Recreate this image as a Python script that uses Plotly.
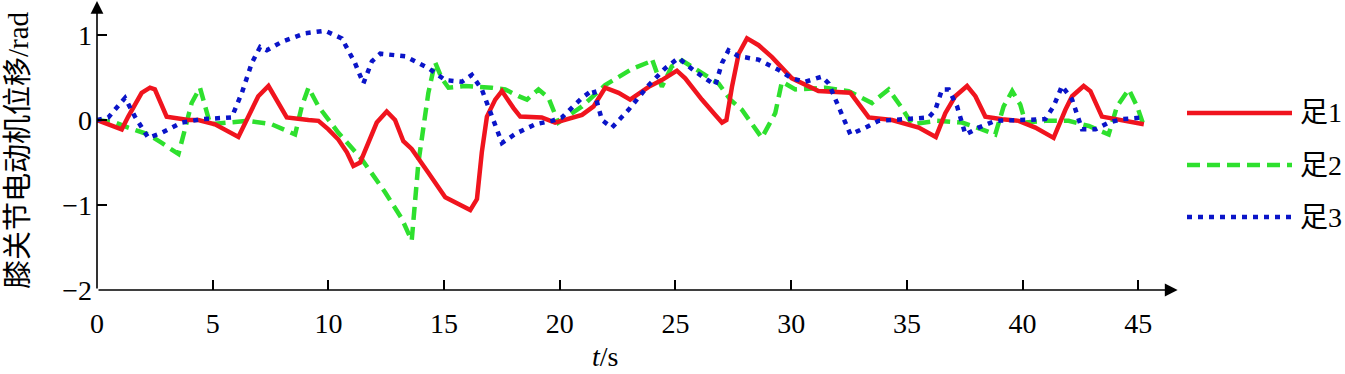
import plotly.graph_objects as go

# ---- data ----
foot1_t = [0, 1.07, 1.35, 1.93, 2.29, 2.5, 3.01, 3.95, 4.38, 5.1, 6.11, 6.69, 6.97, 7.41, 7.84, 8.2,
           9.14, 9.57, 10.0, 10.43, 10.8, 11.08, 11.37, 11.8, 12.09, 12.52, 12.88, 13.24, 13.6, 14.32,
           15.05, 16.13, 16.42, 16.63, 16.85, 17.21, 17.5, 18.0, 18.29, 19.22, 19.8, 20.96, 21.46,
           21.96, 22.54, 23.04, 23.84, 24.41, 25.06, 25.42, 26.14, 26.72, 27.01, 27.2, 27.44, 27.73,
           28.09, 28.59, 29.17, 30.03, 30.75, 31.18, 32.56, 33.35, 34.36, 35.51, 36.25, 36.66, 37.09,
           37.6, 37.96, 38.39, 39.11, 39.83, 40.55, 41.34, 41.85, 42.14, 42.64, 42.93, 43.43, 44.3, 45.24]
foot1_y = [0, -0.11, 0.04, 0.32, 0.38, 0.36, 0.04, 0.0, 0.0, -0.05, -0.2, 0.12, 0.28, 0.4, 0.2, 0.03,
           0.0, -0.01, -0.11, -0.23, -0.38, -0.54, -0.5, -0.23, -0.03, 0.1, 0.0, -0.25, -0.34, -0.62,
           -0.91, -1.06, -0.93, -0.38, 0.04, 0.24, 0.34, 0.14, 0.04, 0.03, -0.03, 0.06, 0.16,
           0.38, 0.32, 0.24, 0.39, 0.47, 0.58, 0.49, 0.24, 0.06, -0.03, 0.0, 0.39, 0.78,
           0.96, 0.88, 0.74, 0.49, 0.39, 0.34, 0.32, 0.03, 0.0, -0.09, -0.2, 0.08, 0.28,
           0.4, 0.28, 0.04, 0.01, -0.01, -0.09, -0.21, 0.12, 0.28, 0.4, 0.34, 0.04, 0.0, -0.05]

foot2_t = [0, 0.78, 1.35, 2.22, 2.8, 3.52, 3.8, 4.09, 4.45, 4.67, 4.89, 5.68, 6.54, 7.55, 8.56, 8.85,
           9.14, 9.57, 10.43, 11.44, 12.45, 13.17, 13.6, 13.89, 14.32, 14.61, 14.9, 15.19, 15.91,
           17.06, 17.64, 18.22, 18.58, 19.08, 19.51, 19.94, 20.96, 21.96, 23.11, 23.84, 23.98, 24.41,
           24.84, 25.28, 26.14, 26.86, 27.37, 27.87, 28.73, 29.31, 29.6, 30.18, 31.47, 32.48, 33.49,
           34.21, 34.79, 35.22, 36.3, 37.38, 38.24, 38.82, 39.18, 39.55, 39.9, 40.12, 40.98, 41.99,
           42.86, 43.72, 44.08, 44.59, 44.95, 45.24]
foot2_y = [0, -0.03, -0.09, -0.17, -0.27, -0.4, -0.11, 0.2, 0.38, 0.16, -0.05, -0.03, -0.01, -0.05, -0.17, 0.16,
           0.38, 0.16, -0.15, -0.46, -0.85, -1.16, -1.42, -0.5, 0.32, 0.68, 0.49, 0.38, 0.4,
           0.38, 0.36, 0.28, 0.24, 0.36, 0.26, -0.03, 0.16, 0.41, 0.6, 0.68, 0.72, 0.39,
           0.63, 0.7, 0.55, 0.43, 0.24, 0.12, -0.21, 0.08, 0.45, 0.36, 0.38, 0.34, 0.2,
           0.36, 0.14, -0.05, -0.01, -0.03, -0.11, -0.17, 0.16, 0.34, 0.18, -0.03, -0.01, -0.01,
           -0.07, -0.17, 0.16, 0.36, 0.16, -0.07]

foot3_t = [0, 0.49, 1.21, 1.64, 2.22, 2.8, 3.66, 4.53, 5.82, 6.26, 6.69, 7.05, 7.34, 7.99, 9.0, 9.86,
           10.58, 11.15, 11.51, 11.88, 12.24, 13.32, 14.32, 15.05, 15.77, 16.2, 16.63, 17.06, 17.5,
           18.1, 18.94, 19.66, 20.09, 20.96, 21.46, 21.82, 22.25, 22.97, 23.84, 24.56, 25.13, 25.85,
           26.72, 27.01, 27.29, 27.73, 28.59, 29.45, 30.03, 30.61, 31.33, 31.62, 32.05, 32.56, 33.2,
           33.78, 34.93, 35.94, 36.23, 36.52, 36.81, 37.17, 37.53, 38.1, 38.82, 40.98, 41.34, 41.7,
           42.14, 42.57, 43.15, 43.72, 44.3, 45.24]
foot3_y = [0, 0.03, 0.26, 0.04, -0.21, -0.15, -0.03, 0.01, 0.03, 0.32, 0.67, 0.86, 0.82, 0.92, 1.02, 1.05,
           0.96, 0.67, 0.43, 0.69, 0.78, 0.75, 0.61, 0.47, 0.45, 0.53, 0.36, 0.04, -0.27,
           -0.16, -0.05, -0.01, 0.03, 0.26, 0.36, 0.0, -0.09, 0.12, 0.41, 0.61, 0.73, 0.57,
           0.41, 0.67, 0.82, 0.75, 0.71, 0.59, 0.49, 0.45, 0.51, 0.43, 0.16, -0.17, -0.09,
           -0.01, 0.01, 0.03, 0.12, 0.36, 0.36, 0.16, -0.17, -0.09, -0.01, 0.01, 0.16, 0.4,
           0.24, -0.11, -0.11, -0.03, 0.01, 0.03]

series_names = ["足1", "足2", "足3"]
x_ticks = [0, 5, 10, 15, 20, 25, 30, 35, 40, 45]
y_ticks = [-2, -1, 0, 1]
y_title = "膝关节电动机位移/rad"
x_title = "<i>t</i>/s"

# ---- style ----
RED, GREEN, BLUE = "#f0141e", "#2ee02e", "#0a14c8"
styles = [
    dict(color=RED, width=4.5, dash="solid"),
    dict(color=GREEN, width=4.5, dash="13px,7px"),
    dict(color=BLUE, width=4.5, dash="5px,6px"),
]
FONT = "Liberation Serif, Noto Sans CJK SC, serif"

W, H = 1345, 374
L, R, T, B = 97, 172, 1, 84
PW, PH = W - L - R, H - T - B
XMAX, YMIN, YMAX = 46.5, -2.0, 1.4


def px(xp):
    return (xp - L) / PW


def py(yp):
    return 1 - (yp - T) / PH


fig = go.Figure()
data = [(foot2_t, foot2_y), (foot1_t, foot1_y), (foot3_t, foot3_y)]
order = [1, 0, 2]
for (t, y), i in zip(data, order):
    fig.add_trace(go.Scatter(x=t, y=y, mode="lines", name=series_names[i],
                             line=dict(color=styles[i]["color"], width=styles[i]["width"],
                                       dash=styles[i]["dash"]),
                             showlegend=False))

fig.update_layout(
    width=W, height=H,
    margin=dict(l=L, r=R, t=T, b=B, pad=0),
    paper_bgcolor="white", plot_bgcolor="white",
    font=dict(family=FONT, size=28, color="black"),
    showlegend=False,
    xaxis=dict(range=[0, XMAX], tickvals=x_ticks, ticks="inside", ticklen=10, tickwidth=1.5,
               tickcolor="black", showgrid=False, zeroline=False, showline=False,
               ticklabelstandoff=14, tickfont=dict(size=28, family=FONT)),
    yaxis=dict(range=[YMIN, YMAX], tickvals=y_ticks, ticks="inside", ticklen=10, tickwidth=1.5,
               tickcolor="black", showgrid=False, zeroline=False, showline=False,
               ticklabelstandoff=4, tickfont=dict(size=28, family=FONT)),
)

# axis lines with arrowheads
fig.add_annotation(x=0, y=YMAX, ax=0, ay=YMIN, xref="x", yref="y", axref="x", ayref="y",
                   text="", showarrow=True, arrowhead=2, arrowsize=1.6, arrowwidth=1.6,
                   arrowcolor="black")
fig.add_annotation(x=XMAX + 0.2, y=YMIN, ax=0, ay=YMIN, xref="x", yref="y", axref="x", ayref="y",
                   text="", showarrow=True, arrowhead=2, arrowsize=1.6, arrowwidth=1.6,
                   arrowcolor="black")

# axis titles
fig.add_annotation(x=px(18), y=py(150), xref="paper", yref="paper", text=y_title,
                   textangle=-90, showarrow=False, font=dict(size=29, family=FONT),
                   xanchor="center", yanchor="middle")
fig.add_annotation(x=px(605), y=py(356), xref="paper", yref="paper", text=x_title,
                   showarrow=False, font=dict(size=28, family=FONT),
                   xanchor="center", yanchor="middle")

# manual legend
legend_rows = [113, 165, 217]
for i, yr in enumerate(legend_rows):
    fig.add_shape(type="line", xref="paper", yref="paper",
                  x0=px(1187), x1=px(1292), y0=py(yr), y1=py(yr),
                  line=dict(color=styles[i]["color"], width=styles[i]["width"], dash=styles[i]["dash"]))
    fig.add_annotation(x=px(1298), y=py(yr), xref="paper", yref="paper", text=series_names[i],
                       showarrow=False, xanchor="left", yanchor="middle",
                       font=dict(size=28, family=FONT))

fig.write_html("out.html", config={"displayModeBar": False},
               post_script="document.body.style.margin='0';")
